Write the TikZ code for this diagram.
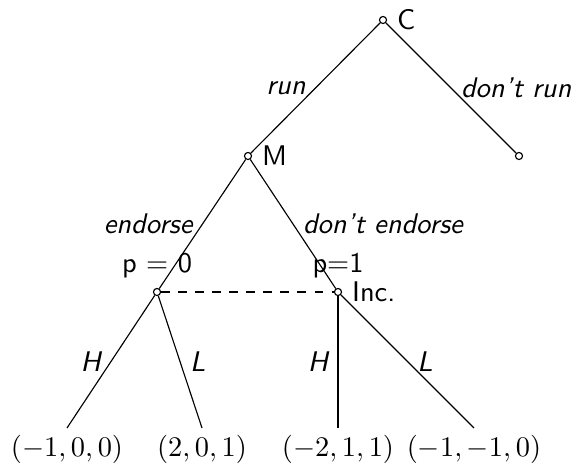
\documentclass[tikz,border=0pt]{standalone}
\usepackage{tikz}
\usetikzlibrary{positioning}
\tikzset{
  dnode/.style={circle, draw, inner sep=0pt, minimum size=2.5pt},
  act/.style={font=\sffamily\itshape},
  payoff/.style={inner sep=1pt},
}
\begin{document}
\begin{tikzpicture}[x=0.352pt, y=0.352pt, font=\sffamily]
    \useasboundingbox (0,0) rectangle (576,467);
    % decision nodes
    \node[dnode, label=right:C] (c) at (383,447) {};
    \node[dnode, label=right:M] (m) at (248,311) {};
    \node[dnode] (t) at (519,311) {};
    \node[dnode, label={above:{p = 0}}] (i1) at (157,175) {};
    \node[dnode, label={above:{p=1}}, label=right:Inc.] (i2) at (338,175) {};
    % leaves
    \coordinate (l1) at (67,39);
    \coordinate (l2) at (202,39);
    \coordinate (l3) at (338,39);
    \coordinate (l4) at (474,39);
    % moves
    \draw (c) -- node[act, left]{run} (m);
    \draw (c) -- node[act, right]{don't run} (t);
    \draw (m) -- node[act, left]{endorse} (i1);
    \draw (m) -- node[act, right]{don't endorse} (i2);
    \draw[dashed] (i1) -- (i2);
    \draw (i1) -- node[act, left]{H} (l1);
    \draw (i1) -- node[act, right]{L} (l2);
    \draw (i2) -- node[act, left]{H} (l3);
    \draw (i2) -- node[act, right]{L} (l4);
    % payoffs
    \node[payoff, below=1.5pt of l1] (p1) {$(-1,0,0)$};
    \node[payoff, below=1.5pt of l2] (p2) {$(2,0,1)$};
    \node[payoff, below=1.5pt of l3] (p3) {$(-2,1,1)$};
    \node[payoff, below=1.5pt of l4] (p4) {$(-1,-1,0)$};
\end{tikzpicture}
\end{document}
